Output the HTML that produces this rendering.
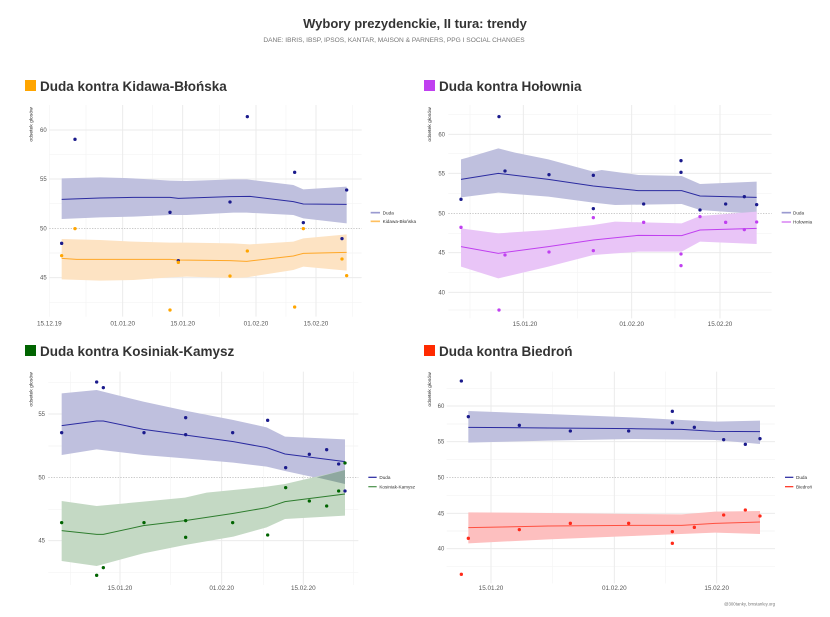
<!DOCTYPE html>
<html><head><meta charset="utf-8"><style>
html,body{margin:0;padding:0;background:#fff;}
svg{display:block;font-family:"Liberation Sans",sans-serif;}
.g{stroke:#ebebeb;stroke-width:3;fill:none}
.gm{stroke:#f4f4f4;stroke-width:2;fill:none}
.z{stroke:#aaa;stroke-width:2;stroke-dasharray:4 4;fill:none}
.yl{font-size:18px;fill:#555;text-anchor:end}
.xl{font-size:19px;fill:#555;text-anchor:middle}
.yt{font-size:15px;fill:#222}
.lg{font-size:14px;fill:#333}
.h{font-size:13.5px;font-weight:bold;fill:#333}
</style></head><body>
<svg width="830" height="617" viewBox="0 0 830 617" xmlns="http://www.w3.org/2000/svg">
<rect width="830" height="617" fill="#fff"/>
<text x="415" y="28" text-anchor="middle" font-size="13" font-weight="bold" fill="#333">Wybory prezydenckie, II tura: trendy</text>
<text x="394" y="42" text-anchor="middle" font-size="6.6" fill="#777">DANE: IBRIS, IBSP, IPSOS, KANTAR, MAISON &amp; PARNERS, PPG I SOCIAL CHANGES</text>

<!-- headers -->
<rect x="25" y="80" width="11" height="11" fill="#ffa500"/><text x="40" y="91" class="h">Duda kontra Kidawa-Błońska</text>
<rect x="424" y="80" width="11" height="11" fill="#c040f0"/><text x="439" y="91" class="h">Duda kontra Hołownia</text>
<rect x="25" y="345" width="11" height="11" fill="#006400"/><text x="40" y="356" class="h">Duda kontra Kosiniak-Kamysz</text>
<rect x="424" y="345" width="11" height="11" fill="#ff2a00"/><text x="439" y="356" class="h">Duda kontra Biedroń</text>

<!-- Panel 1 -->
<g transform="translate(0,70) scale(0.33333)">
<g class="gm"><path d="M148 105V740M258 105V740M458 105V740M658 105V740M858 105V740M1058 105V740M148 253H1085M148 401H1085M148 549H1085M148 697H1085"/></g>
<g class="g"><path d="M368 105V740M548 105V740M768 105V740M948 105V740M148 180H1085M148 327H1085M148 623H1085"/></g>
<path class="z" d="M148 475H1085"/>
<text class="yl" x="140" y="186">60</text><text class="yl" x="140" y="333">55</text><text class="yl" x="140" y="481">50</text><text class="yl" x="140" y="629">45</text>
<text class="yt" transform="translate(98,215) rotate(-90)">odsetek głosów</text>
<text class="xl" x="148" y="766">15.12.19</text><text class="xl" x="368" y="766">01.01.20</text><text class="xl" x="548" y="766">15.01.20</text><text class="xl" x="768" y="766">01.02.20</text><text class="xl" x="948" y="766">15.02.20</text>
<polygon fill="#bfc0de" points="185,325 300,322 400,325 510,332 560,333 700,328 740,328 880,345 910,358 1040,350 1040,460 910,445 880,435 740,428 700,428 560,435 510,435 400,440 300,442 185,447"/>
<polyline fill="none" stroke="#2b2ba0" stroke-width="3" points="185,388 300,384 400,382 510,382 535,385 690,380 750,379 880,395 910,402 1040,403"/>
<polygon fill="#fde3c3" points="185,507 300,510 400,515 510,518 560,518 700,520 750,523 880,515 910,505 1040,493 1040,602 910,590 880,600 740,622 700,624 560,620 510,622 400,630 300,632 185,628"/>
<polyline fill="none" stroke="#ffa726" stroke-width="3" points="185,565 230,568 400,568 510,568 535,570 690,572 740,574 880,558 910,550 1040,547"/>
<g fill="#1a1a8c"><circle cx="185" cy="520" r="5"/><circle cx="225" cy="208" r="5"/><circle cx="510" cy="427" r="5"/><circle cx="535" cy="572" r="5"/><circle cx="690" cy="396" r="5"/><circle cx="742" cy="140" r="5"/><circle cx="884" cy="307" r="5"/><circle cx="910" cy="458" r="5"/><circle cx="1026" cy="506" r="5"/><circle cx="1040" cy="360" r="5"/></g>
<g fill="#ffa500"><circle cx="185" cy="557" r="5"/><circle cx="225" cy="476" r="5"/><circle cx="510" cy="720" r="5"/><circle cx="535" cy="577" r="5"/><circle cx="690" cy="618" r="5"/><circle cx="742" cy="543" r="5"/><circle cx="884" cy="711" r="5"/><circle cx="910" cy="476" r="5"/><circle cx="1026" cy="567" r="5"/><circle cx="1040" cy="617" r="5"/></g>
<path d="M1112 428H1140" stroke="#9a9ad0" stroke-width="5"/><text class="lg" x="1148" y="433">Duda</text>
<path d="M1112 454H1140" stroke="#ffc060" stroke-width="5"/><text class="lg" x="1148" y="459">Kidawa-Błońska</text>
</g>

<!-- Panel 2 -->
<g transform="translate(415,70) scale(0.33333)">
<g class="gm"><path d="M100 133H1070M100 250H1070M100 370H1070M100 490H1070M100 607H1070M100 720H1070M165 105V745M487 105V745M780 105V745"/></g>
<g class="g"><path d="M100 193H1070M100 310H1070M100 548H1070M100 667H1070M325 105V745M650 105V745M915 105V745"/></g>
<path class="z" d="M100 430H1070"/>
<text class="yl" x="90" y="199">60</text><text class="yl" x="90" y="316">55</text><text class="yl" x="90" y="436">50</text><text class="yl" x="90" y="554">45</text><text class="yl" x="90" y="673">40</text>
<text class="yt" transform="translate(48,215) rotate(-90)">odsetek głosów</text>
<text class="xl" x="330" y="768">15.01.20</text><text class="xl" x="650" y="768">01.02.20</text><text class="xl" x="915" y="768">15.02.20</text>
<polygon fill="#bfc0de" points="138,268 160,262 250,235 300,248 400,268 535,305 560,300 670,315 800,318 855,342 1025,335 1025,432 855,420 800,402 600,405 535,398 400,380 250,368 138,382"/>
<polyline fill="none" stroke="#2b2ba0" stroke-width="3" points="138,328 250,310 400,328 535,348 670,362 800,362 855,378 1025,382"/>
<polygon fill="#e9c5f7" points="138,475 250,490 400,480 535,465 600,455 800,460 855,438 1025,425 1025,522 855,515 800,545 670,545 535,555 400,590 250,625 138,590"/>
<polyline fill="none" stroke="#c040f0" stroke-width="3" points="138,530 250,550 400,530 535,510 670,496 800,497 855,480 1025,475"/>
<g fill="#1a1a8c"><circle cx="138" cy="388" r="5"/><circle cx="252" cy="140" r="5"/><circle cx="270" cy="303" r="5"/><circle cx="402" cy="314" r="5"/><circle cx="535" cy="316" r="5"/><circle cx="535" cy="416" r="5"/><circle cx="686" cy="402" r="5"/><circle cx="798" cy="272" r="5"/><circle cx="798" cy="307" r="5"/><circle cx="855" cy="420" r="5"/><circle cx="932" cy="402" r="5"/><circle cx="988" cy="380" r="5"/><circle cx="1025" cy="404" r="5"/></g>
<g fill="#c040f0"><circle cx="138" cy="472" r="5"/><circle cx="252" cy="720" r="5"/><circle cx="270" cy="555" r="5"/><circle cx="402" cy="546" r="5"/><circle cx="535" cy="443" r="5"/><circle cx="535" cy="542" r="5"/><circle cx="686" cy="457" r="5"/><circle cx="798" cy="552" r="5"/><circle cx="798" cy="587" r="5"/><circle cx="855" cy="440" r="5"/><circle cx="932" cy="457" r="5"/><circle cx="988" cy="479" r="5"/><circle cx="1025" cy="456" r="5"/></g>
<path d="M1100 428H1128" stroke="#9a9ad0" stroke-width="5"/><text class="lg" x="1134" y="433">Duda</text>
<path d="M1100 456H1128" stroke="#dc90f5" stroke-width="5"/><text class="lg" x="1134" y="461">Hołownia</text>
</g>

<!-- Panel 3 -->
<g transform="translate(0,340) scale(0.33333)">
<g class="gm"><path d="M145 127H1075M145 318H1075M145 508H1075M145 697H1075M212 95V735M512 95V735M790 95V735M1060 95V735"/></g>
<g class="g"><path d="M145 222H1075M145 602H1075M360 95V735M665 95V735M910 95V735"/></g>
<path class="z" d="M145 412H1075"/>
<text class="yl" x="135" y="228">55</text><text class="yl" x="135" y="418">50</text><text class="yl" x="135" y="608">45</text>
<text class="yt" transform="translate(98,200) rotate(-90)">odsetek głosów</text>
<text class="xl" x="360" y="750">15.01.20</text><text class="xl" x="665" y="750">01.02.20</text><text class="xl" x="910" y="750">15.02.20</text>
<polygon fill="#bfc0de" points="185,160 290,150 430,185 555,212 700,240 800,262 855,290 1035,298 1035,432 855,393 800,380 700,368 555,355 430,345 290,328 185,345"/>
<polygon fill="#c4d9c4" points="185,483 290,498 430,485 555,473 620,458 800,440 855,432 1035,390 1035,527 855,537 800,562 700,590 555,615 430,640 290,678 185,663"/>
<polygon fill="#8fa8a0" points="950,412 1035,390 1035,432"/>
<polyline fill="none" stroke="#2b2ba0" stroke-width="3" points="185,257 290,243 310,243 430,268 555,285 700,305 800,323 855,342 1035,365"/>
<polyline fill="none" stroke="#2e7d2e" stroke-width="3" points="185,572 290,583 310,583 430,557 555,542 700,520 800,503 855,485 1035,462"/>
<g fill="#1a1a8c"><circle cx="185" cy="278" r="5"/><circle cx="290" cy="126" r="5"/><circle cx="310" cy="143" r="5"/><circle cx="432" cy="278" r="5"/><circle cx="557" cy="233" r="5"/><circle cx="557" cy="284" r="5"/><circle cx="698" cy="278" r="5"/><circle cx="803" cy="241" r="5"/><circle cx="857" cy="383" r="5"/><circle cx="928" cy="343" r="5"/><circle cx="980" cy="329" r="5"/><circle cx="1016" cy="372" r="5"/><circle cx="1035" cy="453" r="5"/></g>
<g fill="#006400"><circle cx="185" cy="548" r="5"/><circle cx="290" cy="706" r="5"/><circle cx="310" cy="683" r="5"/><circle cx="432" cy="548" r="5"/><circle cx="557" cy="542" r="5"/><circle cx="557" cy="592" r="5"/><circle cx="698" cy="548" r="5"/><circle cx="803" cy="585" r="5"/><circle cx="857" cy="443" r="5"/><circle cx="928" cy="483" r="5"/><circle cx="980" cy="498" r="5"/><circle cx="1016" cy="453" r="5"/><circle cx="1035" cy="369" r="5"/></g>
<path d="M1105 412H1130" stroke="#3a3aa8" stroke-width="4"/><text class="lg" x="1138" y="417">Duda</text>
<path d="M1105 440H1130" stroke="#5a9a5a" stroke-width="4"/><text class="lg" x="1138" y="445">Kosiniak-Kamysz</text>
</g>

<!-- Panel 4 -->
<g transform="translate(415,340) scale(0.33333)">
<g class="gm"><path d="M95 145H1080M95 252H1080M95 358H1080M95 466H1080M95 573H1080M95 680H1080M412 95V730M752 95V730"/></g>
<g class="g"><path d="M95 198H1080M95 305H1080M95 520H1080M95 626H1080M228 95V730M598 95V730M905 95V730"/></g>
<path class="z" d="M95 412H1080"/>
<text class="yl" x="88" y="204">60</text><text class="yl" x="88" y="311">55</text><text class="yl" x="88" y="418">50</text><text class="yl" x="88" y="526">45</text><text class="yl" x="88" y="632">40</text>
<text class="yt" transform="translate(48,200) rotate(-90)">odsetek głosów</text>
<text class="xl" x="228" y="750">15.01.20</text><text class="xl" x="598" y="750">01.02.20</text><text class="xl" x="905" y="750">15.02.20</text>
<polygon fill="#bfc0de" points="160,213 400,222 650,232 800,240 900,245 1035,242 1035,312 900,300 650,297 400,302 160,308"/>
<polyline fill="none" stroke="#2b2ba0" stroke-width="3" points="160,262 400,264 650,266 800,268 900,274 1035,275"/>
<polygon fill="#fdbfbf" points="160,517 400,519 650,522 800,523 900,515 1035,513 1035,582 900,578 650,588 400,598 160,610"/>
<polyline fill="none" stroke="#ff5040" stroke-width="3" points="160,563 400,558 650,556 800,556 900,550 1035,546"/>
<g fill="#1a1a8c"><circle cx="139" cy="123" r="5"/><circle cx="160" cy="230" r="5"/><circle cx="313" cy="256" r="5"/><circle cx="466" cy="273" r="5"/><circle cx="641" cy="273" r="5"/><circle cx="772" cy="214" r="5"/><circle cx="772" cy="248" r="5"/><circle cx="838" cy="262" r="5"/><circle cx="926" cy="299" r="5"/><circle cx="991" cy="313" r="5"/><circle cx="1035" cy="296" r="5"/></g>
<g fill="#ff2a1a"><circle cx="139" cy="703" r="5"/><circle cx="160" cy="595" r="5"/><circle cx="313" cy="569" r="5"/><circle cx="466" cy="550" r="5"/><circle cx="641" cy="550" r="5"/><circle cx="772" cy="575" r="5"/><circle cx="772" cy="610" r="5"/><circle cx="838" cy="562" r="5"/><circle cx="926" cy="525" r="5"/><circle cx="991" cy="510" r="5"/><circle cx="1035" cy="528" r="5"/></g>
<path d="M1110 412H1135" stroke="#3a3aa8" stroke-width="4"/><text class="lg" x="1143" y="417">Duda</text>
<path d="M1110 440H1135" stroke="#ff4030" stroke-width="4"/><text class="lg" x="1143" y="445">Biedroń</text>
<text x="1080" y="797" font-size="13" fill="#777" text-anchor="end">@300tanky, bmstanley.org</text>
</g>
</svg>
</body></html>
